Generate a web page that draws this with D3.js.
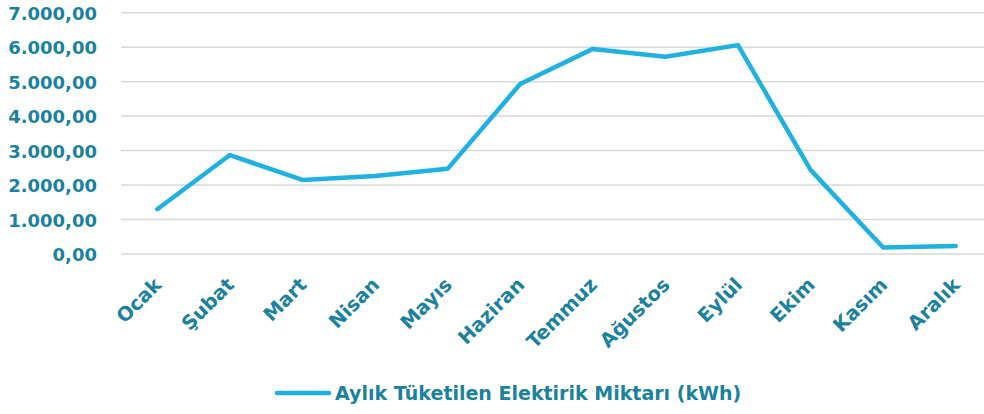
<!DOCTYPE html>
<html><head><meta charset="utf-8">
<script src="https://cdn.jsdelivr.net/npm/d3@7"></script>
<style>
body{margin:0;background:#fff;}
svg{display:block;font-family:"DejaVu Sans",sans-serif;font-weight:bold;}
</style></head>
<body>
<svg id="chart" width="984" height="414"></svg>
<script>
const months = ["Ocak","Şubat","Mart","Nisan","Mayıs","Haziran","Temmuz","Ağustos","Eylül","Ekim","Kasım","Aralık"];
const values = [1300,2870,2150,2260,2470,4930,5950,5720,6060,2440,190,230];
const yTicks = [0,1000,2000,3000,4000,5000,6000,7000];
const seriesName = "Aylık Tüketilen Elektirik Miktarı (kWh)";

(function(){
const textColor = "#1a819f";
const lineColor = "#1fb0e4";

const svg = d3.select("#chart");
const mLeft = 121, mRight = 992, mTop = 12.7, mBottom = 254;

const x = d3.scalePoint().domain(months).range([mLeft, mRight]).padding(0.5);
const y = d3.scaleLinear().domain([0,7000]).range([mBottom, mTop]);

const fmt = v => d3.formatLocale({decimal:",",thousands:".",grouping:[3],currency:["",""]}).format(",.2f")(v);

svg.append("g").selectAll("line").data(yTicks).join("line")
  .attr("x1", mLeft).attr("x2", 984)
  .attr("y1", d => y(d)).attr("y2", d => y(d))
  .attr("stroke", "#d9d9d9").attr("stroke-width", 1.5);

const yAxis = d3.axisLeft(y).tickValues(yTicks).tickFormat(fmt).tickSize(0).tickPadding(0);
const gy = svg.append("g").attr("transform", `translate(97,0)`).call(yAxis);
gy.select(".domain").remove();
gy.selectAll("text").attr("fill", textColor).attr("font-size", 18).attr("font-family","DejaVu Sans").attr("font-weight","bold").attr("dy","0.36em");

const xAxis = d3.axisBottom(x).tickSize(0).tickPadding(0);
const gx = svg.append("g").attr("transform", `translate(0,${mBottom})`).call(xAxis);
gx.select(".domain").remove();
gx.selectAll("text")
  .attr("fill", textColor).attr("font-size", 19.5).attr("font-family","DejaVu Sans").attr("font-weight","bold")
  .attr("text-anchor","end").attr("dy",null).attr("y",0)
  .attr("transform","translate(5,32) rotate(-45)");

const line = d3.line().x((d,i) => x(months[i])).y(d => y(d));
svg.append("path").datum(values)
  .attr("d", line).attr("fill","none")
  .attr("stroke", lineColor).attr("stroke-width", 4.5)
  .attr("stroke-linejoin","round").attr("stroke-linecap","round");

const lg = svg.append("g");
lg.append("line").attr("x1",277).attr("x2",329).attr("y1",393).attr("y2",393)
  .attr("stroke",lineColor).attr("stroke-width",4.5).attr("stroke-linecap","round");
lg.append("text").attr("x",335).attr("y",393).attr("dy","0.36em")
  .attr("fill",textColor).attr("font-size",19).text(seriesName);
})();
</script>
</body></html>
